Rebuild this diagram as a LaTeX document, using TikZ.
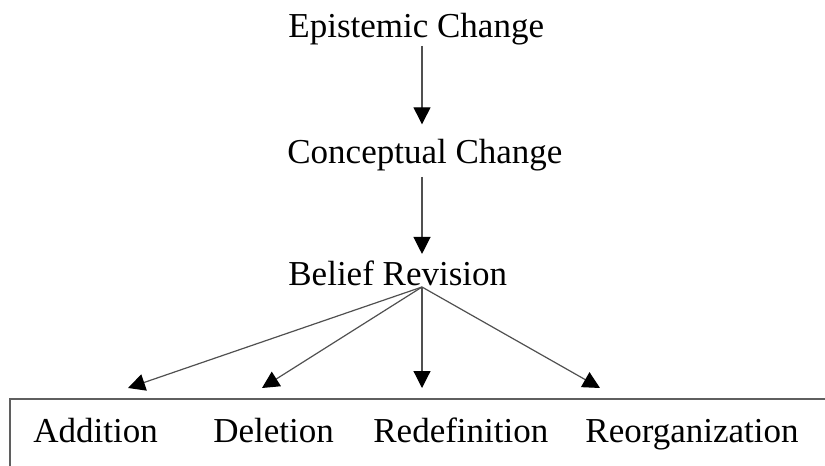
\documentclass[tikz,border=0pt]{standalone}
\usepackage{fontspec}
\setmainfont{Liberation Serif}
\usepackage{tikz}
\usetikzlibrary{arrows.meta}
\definecolor{linegray}{RGB}{80,80,80}
\definecolor{boxgray}{RGB}{95,95,95}

\begin{document}
\begin{tikzpicture}[x=0.5pt,y=-0.5pt]
		\tikzstyle{every node}+=[inner sep=0pt,anchor=base west,font=\fontsize{17.5}{21}\selectfont]
		\tikzstyle{arr}=[linegray,line width=0.6pt,-{Triangle[length=8.5pt,width=8.5pt,black]}]
		\useasboundingbox (0,0) rectangle (825,466);
		\node (epi) at (288,38) {Epistemic Change};
		\node (con) at (287,163) {Conceptual Change};
		\node (bel) at (288,285) {Belief Revision};
		\node (add) at (33,442) {Addition};
		\node (del) at (213,442) {Deletion};
		\node (red) at (373,442) {Redefinition};
		\node (reo) at (585,442) {Reorganization};
		\coordinate (hub) at (422,287);
		\coordinate (add-in) at (128,388);
		\coordinate (del-in) at (262,388);
		\coordinate (red-in) at (422,388);
		\coordinate (reo-in) at (600,388);
		\draw [arr,shorten >=7pt] (epi.south -| hub) -- (con.north -| hub);
		\draw [arr,shorten <=3pt,shorten >=3pt] (con.south -| hub) -- (bel.north -| hub);
		\draw [arr] (hub) -- (add-in);
		\draw [arr] (hub) -- (del-in);
		\draw [arr] (hub) -- (red-in);
		\draw [arr] (hub) -- (reo-in);
		\draw [boxgray,line width=1.3pt] (10,480) -- (10,399) -- (840,399);
		\end{tikzpicture}
\end{document}
